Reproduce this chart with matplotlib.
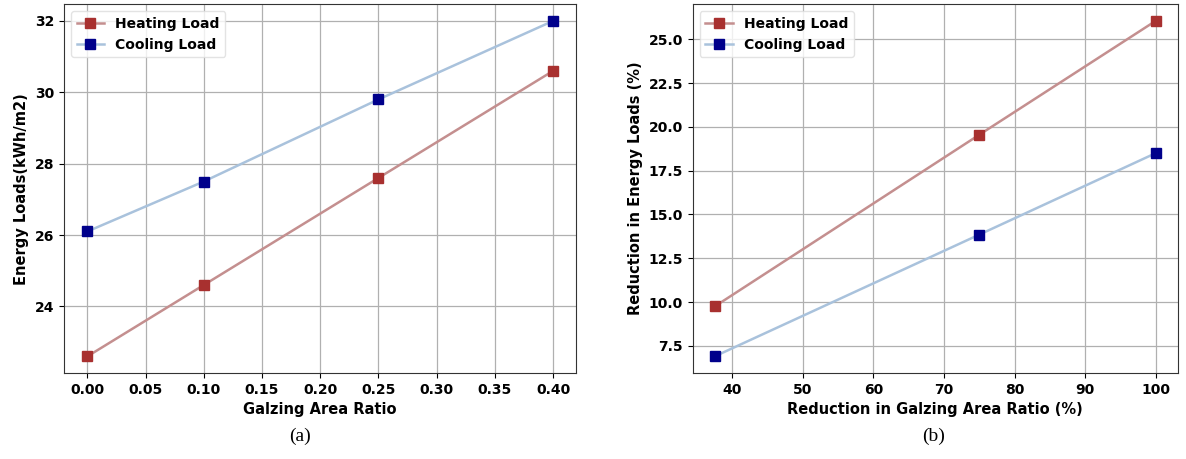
import numpy as np
import matplotlib.pyplot as plt


# (a) loads vs glazing area ratio
ratio = [0.0, 0.10, 0.25, 0.40]
heating_a = [22.6, 24.6, 27.6, 30.6]
cooling_a = [26.1, 27.5, 29.8, 32.0]

# (b) reduction in loads vs reduction in glazing area ratio
reduction = [37.5, 75, 100]
heating_b = [9.75, 19.55, 26.05]
cooling_b = [6.9, 13.85, 18.5]

HEAT_LINE = '#c48f8f'
HEAT_MARK = '#a8302f'
COOL_LINE = '#a9c2dc'
COOL_MARK = '#00008b'


def Plot_Panel(ax, x, heat, cool, xlabel, ylabel):
    ax.plot(x, heat, '-', color=HEAT_LINE, lw=1.8, marker='s', ms=7,
            mfc=HEAT_MARK, mec=HEAT_MARK, label='Heating Load')
    ax.plot(x, cool, '-', color=COOL_LINE, lw=1.8, marker='s', ms=7,
            mfc=COOL_MARK, mec=COOL_MARK, label='Cooling Load')
    ax.grid(True, color='#b0b0b0', lw=0.9)
    ax.set_axisbelow(True)
    ax.set_xlabel(xlabel, fontsize=10.5, fontweight='bold')
    ax.set_ylabel(ylabel, fontsize=10.5, fontweight='bold')
    for lab in ax.get_xticklabels() + ax.get_yticklabels():
        lab.set_fontweight('bold')
    ax.tick_params(labelsize=10)
    for s in ax.spines.values():
        s.set_color('#333333')
    leg = ax.legend(loc='upper left', prop={'weight': 'bold', 'size': 10})
    leg.get_frame().set_edgecolor('#dddddd')


def Main():
    fig = plt.figure(figsize=(11.86, 4.59), dpi=100)
    ax1 = fig.add_axes([0.054, 0.187, 0.432, 0.804])
    ax2 = fig.add_axes([0.584, 0.187, 0.409, 0.804])

    Plot_Panel(ax1, ratio, heating_a, cooling_a,
               'Galzing Area Ratio', 'Energy Loads(kWh/m2)')
    ax1.set_xticks(np.arange(0, 0.41, 0.05))
    ax1.set_yticks([24, 26, 28, 30, 32])

    Plot_Panel(ax2, reduction, heating_b, cooling_b,
               'Reduction in Galzing Area Ratio (%)', 'Reduction in Energy Loads (%)')
    ax2.set_xticks([40, 50, 60, 70, 80, 90, 100])
    ax2.set_yticks(np.arange(7.5, 25.1, 2.5))

    fig.text(0.253, 0.04, '(a)', family='Liberation Serif', fontsize=14, ha='center')
    fig.text(0.787, 0.04, '(b)', family='Liberation Serif', fontsize=14, ha='center')

    fig.savefig('out.png', dpi=100)
    plt.close()


if __name__ == '__main__':
    Main()
